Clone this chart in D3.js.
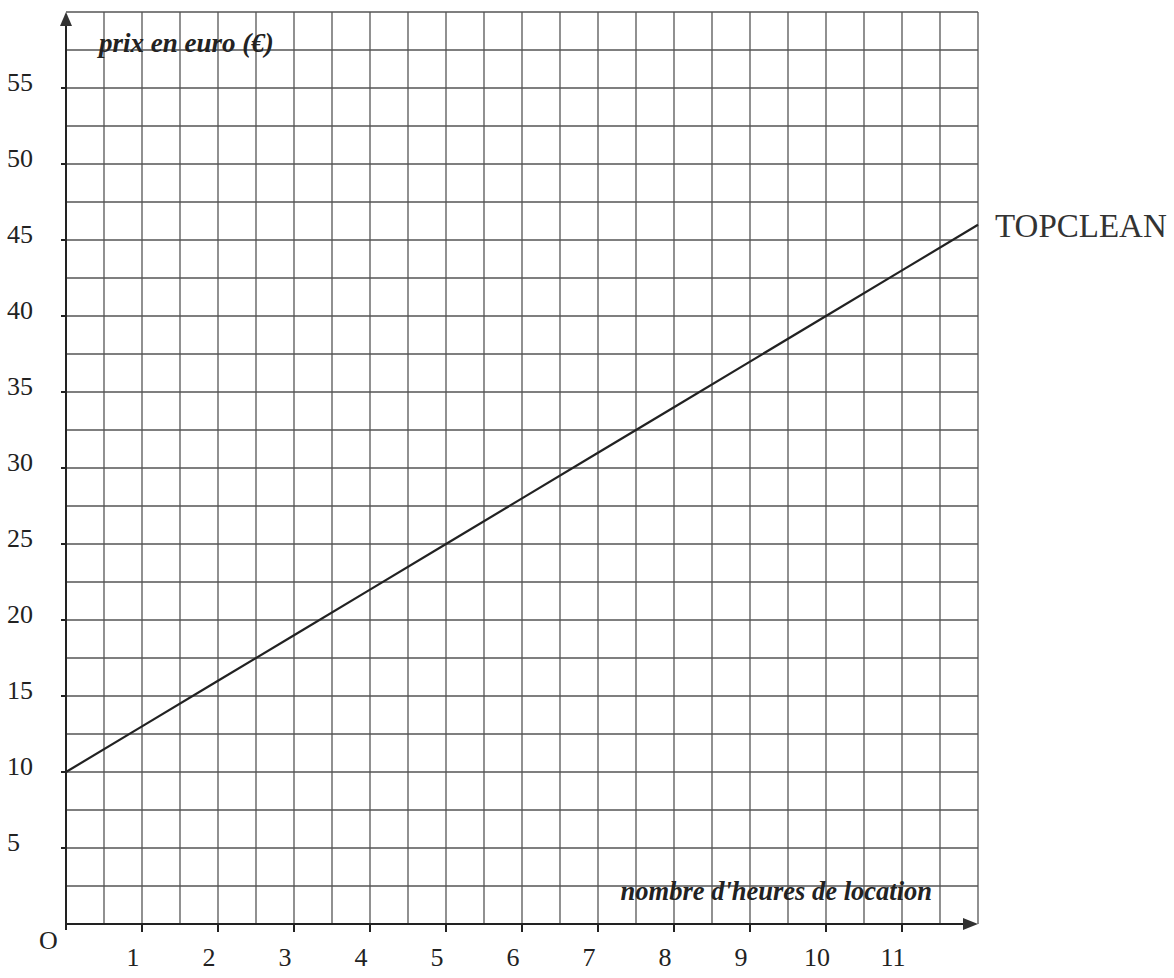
<!DOCTYPE html>
<html lang="fr">
<head>
    <meta charset="UTF-8">
    <script src="https://cdn.jsdelivr.net/npm/d3@7"></script>
    <title>TOPCLEAN</title>
    <style>
        body { margin: 0; background: #fff; }
        text { font-family: "Liberation Serif", "DejaVu Serif", serif; fill: #222; }
    </style>
</head>
<body>
<script>
// heures de location et prix correspondant (TOPCLEAN)
let heures = [0, 1, 2, 3, 4, 5, 6, 7, 8, 9, 10, 11, 12]
let prix = [10, 13, 16, 19, 22, 25, 28, 31, 34, 37, 40, 43, 46]
let xTicks = [1, 2, 3, 4, 5, 6, 7, 8, 9, 10, 11]
let yTicks = [5, 10, 15, 20, 25, 30, 35, 40, 45, 50, 55]

let width = 1174
let height = 978

let svg = d3.select("body").append("svg")
    .attr("width", width)
    .attr("height", height)

let x = d3.scaleLinear().domain([0, 12]).range([66, 978])
let y = d3.scaleLinear().domain([0, 60]).range([924, 12])

// quadrillage : un carreau = 0,5 h x 2,5 €
let grid = svg.append("g").attr("stroke", "#555").attr("stroke-width", 1.3)
grid.selectAll("line.v")
    .data(d3.range(1, 25).map(d => d / 2))
    .enter().append("line")
    .attr("x1", d => x(d)).attr("x2", d => x(d))
    .attr("y1", y(0)).attr("y2", y(60))
grid.selectAll("line.h")
    .data(d3.range(1, 25).map(d => d * 2.5))
    .enter().append("line")
    .attr("x1", x(0)).attr("x2", x(12))
    .attr("y1", d => y(d)).attr("y2", d => y(d))

// axes
let axes = svg.append("g").attr("stroke", "#222").attr("stroke-width", 2)
axes.append("line").attr("x1", x(0)).attr("x2", x(12) - 6).attr("y1", y(0)).attr("y2", y(0))
axes.append("line").attr("x1", x(0)).attr("x2", x(0)).attr("y1", y(0) + 6).attr("y2", y(60) + 6)
axes.selectAll("line.tx").data(xTicks).enter().append("line")
    .attr("x1", d => x(d)).attr("x2", d => x(d)).attr("y1", y(0)).attr("y2", y(0) + 8)
axes.selectAll("line.ty").data(yTicks).enter().append("line")
    .attr("x1", x(0) - 5).attr("x2", x(0)).attr("y1", d => y(d)).attr("y2", d => y(d))

svg.append("path")
    .attr("d", `M${x(12)},${y(0)} l-15,-6 l0,12 z`)
    .attr("fill", "#333")
svg.append("path")
    .attr("d", `M${x(0)},${y(60)} l-6,14 l12,0 z`)
    .attr("fill", "#333")

// droite TOPCLEAN
let line = d3.line().x((d, i) => x(heures[i])).y(d => y(d))
svg.append("path")
    .attr("d", line(prix))
    .attr("fill", "none")
    .attr("stroke", "#222")
    .attr("stroke-width", 2.2)

// graduations
svg.selectAll("text.xl").data(xTicks).enter().append("text")
    .attr("x", d => x(d) - 9)
    .attr("y", 966)
    .attr("text-anchor", "middle")
    .attr("font-size", 26)
    .text(d => d)
svg.selectAll("text.yl").data(yTicks).enter().append("text")
    .attr("x", 7)
    .attr("y", d => y(d) + 3)
    .attr("font-size", 26)
    .text(d => d)
svg.append("text").attr("x", 39).attr("y", 949).attr("font-size", 26).text("O")

// titres
svg.append("text")
    .attr("x", 99).attr("y", 52)
    .attr("font-size", 27).attr("font-style", "italic").attr("font-weight", "bold")
    .text("prix en euro (€)")
svg.append("text")
    .attr("x", 932).attr("y", 900)
    .attr("text-anchor", "end")
    .attr("font-size", 26.5).attr("font-style", "italic").attr("font-weight", "bold")
    .text("nombre d'heures de location")
svg.append("text")
    .attr("x", 995).attr("y", 237)
    .attr("font-size", 33)
    .style("fill", "#333")
    .text("TOPCLEAN")
</script>
</body>
</html>
